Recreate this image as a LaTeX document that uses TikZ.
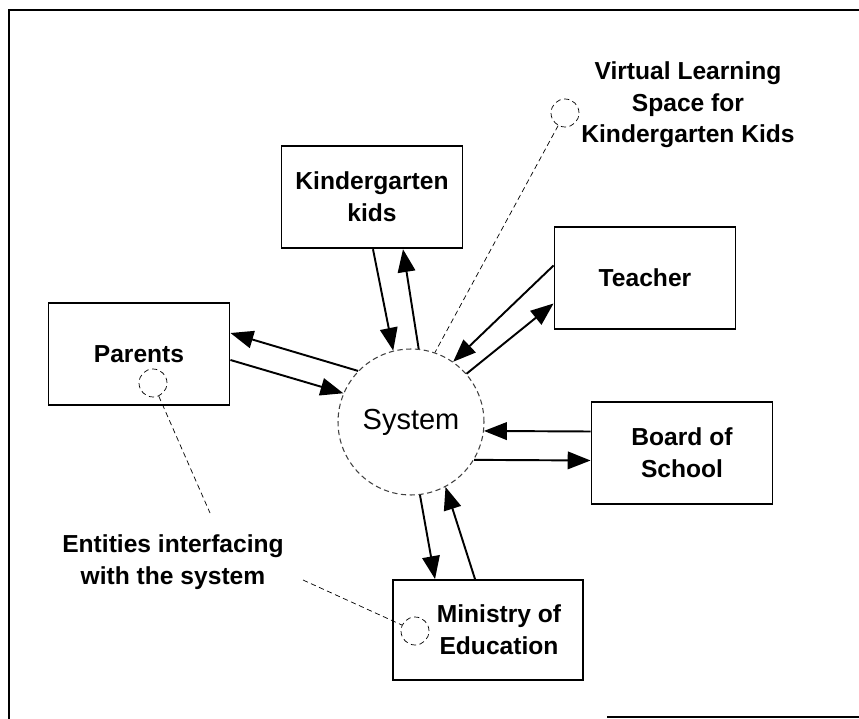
\documentclass[tikz,border=0pt]{standalone}
\usepackage{fontspec}
\setmainfont{Liberation Sans}
\usetikzlibrary{arrows.meta}

\begin{document}
\begin{tikzpicture}[x=0.02cm,y=-0.02cm,
  entity/.style={draw,line width=1.1pt,minimum width=3.62cm,minimum height=2.05cm,align=center,font=\fontsize{14}{18}\selectfont\bfseries},
  flow/.style={-{Triangle[length=13pt,width=10pt]},line width=1.1pt},
  port/.style={draw,circle,densely dashed,thin,minimum size=0.56cm,inner sep=0pt},
  note/.style={align=center,font=\fontsize{14}{18}\selectfont\bfseries},
  guide/.style={densely dashed,thin}]
\useasboundingbox (0,0) rectangle (859,719);
% frame
\draw[semithick] (859,10) -- (9,10) -- (9,719);
\draw[semithick] (607,717) -- (859,717);
% process and external entities
\node[draw,circle,densely dashed,semithick,black!75,text=black,minimum size=2.92cm,inner sep=0pt,font=\fontsize{16.5}{20}\selectfont] (sys) at (411,422) {System};
\node[entity] (kids) at (372,197) {Kindergarten\\kids};
\node[entity] (parents) at (139,354) {Parents};
\node[entity] (teacher) at (645,278) {Teacher};
\node[entity] (board) at (682,453) {Board of\\School};
\node[entity,minimum width=3.8cm,minimum height=2cm] (ministry) at (488,630) {\hspace*{0.44cm}Ministry of\\\hspace*{0.44cm}Education};
% data flows
\draw[flow] ([xshift=0.02cm]kids.south) -- (sys.104);
\draw[flow] (sys.84) -- ([xshift=0.62cm]kids.south);
\draw[flow] (sys.136) -- ([yshift=0.42cm]parents.east);
\draw[flow] ([yshift=-0.12cm]parents.east) -- (sys.157);
\draw[flow] ([yshift=0.25cm]teacher.west) -- (sys.55);
\draw[flow] (sys.41) -- ([yshift=-0.51cm]teacher.west);
\draw[flow] ([yshift=0.43cm]board.west) -- (sys.-7);
\draw[flow] (sys.-31) -- ([yshift=-0.15cm]board.west);
\draw[flow] (sys.-83) -- ([xshift=-1.06cm]ministry.north);
\draw[flow] ([xshift=-0.26cm]ministry.north) -- (sys.-62);
% annotations
\node[port] (vc) at (565,113) {};
\node[port] (pc) at (153,383) {};
\node[port] (mc) at (415,631) {};
\node[note] (vls) at (688,105) {Virtual Learning\\Space for\\Kindergarten Kids};
\node[note] (ent) at (173,562) {Entities interfacing\\with the system};
\coordinate (e1) at (210,513);
\coordinate (e2) at (303,580);
\draw[guide] (vc) -- (sys.71);
\draw[guide] (pc) -- (e1);
\draw[guide] (e2) -- (mc);
\end{tikzpicture}
\end{document}
